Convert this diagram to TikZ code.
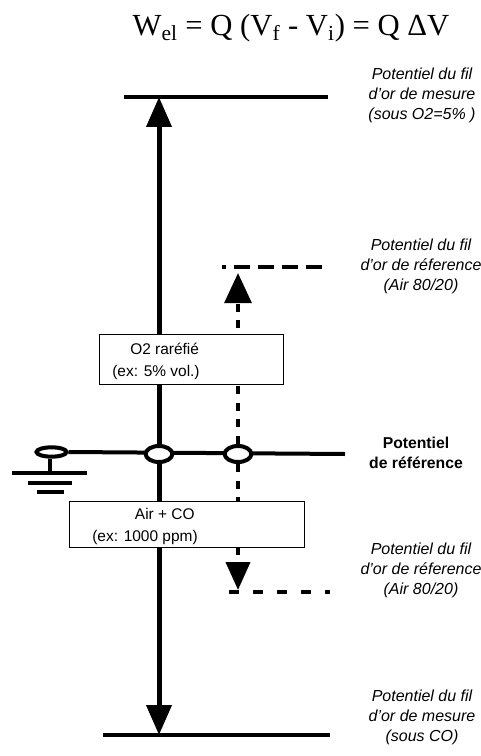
\documentclass[tikz,border=0pt]{standalone}
\usepackage{fontspec}
\setmainfont{Liberation Sans}
\newfontfamily\tnr{Liberation Serif}
\usetikzlibrary{arrows.meta,positioning,calc,shapes.geometric}
\tikzset{
  >={Triangle[length=22.5pt,width=18.5pt]},
  lvl/.style={line width=2.4pt},
  mainw/.style={->,line width=3.75pt},
  refw/.style={line width=3pt,dash pattern=on 6pt off 6.4pt},
  gasbox/.style={draw,line width=1pt,fill=white,inner sep=0pt,anchor=north west},
  gastxt/.style={font=\fontsize{11.6}{16.5}\selectfont,align=left,anchor=west,inner sep=0pt},
  lbl/.style={font=\fontsize{12}{15}\selectfont\itshape,align=center,inner sep=0pt},
  blbl/.style={font=\fontsize{11.8}{15}\selectfont\bfseries,align=center,inner sep=0pt},
  joint/.style={draw,ellipse,line width=3pt,fill=white,minimum width=20pt,minimum height=12pt,inner sep=0pt},
  gring/.style={joint,minimum width=22.5pt,minimum height=7pt},
}
\begin{document}
\begin{tikzpicture}[x=0.75pt,y=-0.75pt]
  \useasboundingbox (0,0) rectangle (480,756);
  % formule
  \node[font=\tnr\fontsize{23}{27}\selectfont,inner sep=0pt] (eq) at (291,28)
    {W\textsubscript{el} = Q (V\textsubscript{f} - V\textsubscript{i}) = Q ΔV};
  % niveaux de potentiel
  \draw[lvl] (124,97) -- (328,97);
  \draw[lvl] (103,735) -- (330,735);
  \draw[lvl,dash pattern=on 12pt off 6pt] (322,267) -- (222,267);
  \draw[lvl,dash pattern=on 7.5pt off 10.5pt] (229,592) -- (330,592);
  \coordinate (mtop) at (159,97);
  \coordinate (mbot) at (159,735);
  \coordinate (rtop) at (238,273);
  \coordinate (rbot) at (238,590);
  % ligne de reference et masse
  \coordinate (href) at (345,454);
  \node[gring] (g) at (51.5,452) {};
  \draw[line width=3pt] (g.east) -- (href);
  \coordinate (gs) at (50,473);
  \draw[lvl] (g.south -| gs) -- (gs);
  \draw[lvl] (12,473) -- (87,473);
  \draw[lvl] (28,483) -- (72,483);
  \draw[lvl] (37,492) -- (64,492);
  \node[joint] (jm) at (159,454) {};
  \node[joint] (jr) at (238,454) {};
  % fleches
  \draw[mainw] (jm.north) -- (mtop);
  \draw[mainw] (jm.south) -- (mbot);
  \draw[refw,-{Triangle[length=22.5pt,width=20pt]}] (jr.north) -- (rtop);
  \draw[refw,-{Triangle[length=21pt,width=18pt]}] (jr.south) -- (rbot);
  % gaz
  \node[gasbox,minimum width=138pt,minimum height=37.5pt] (o2) at (99,334) {};
  \node[gastxt] (o2t) at (112,361) {\hspace*{13.5pt}O2 raréfié\\(ex: 5\% vol.)};
  \node[gasbox,minimum width=176.25pt,minimum height=34.5pt] (air) at (69,501) {};
  \node[gastxt] (airt) at (92,526) {\hspace*{32pt}Air + CO\\(ex: 1000 ppm)};
  % legendes
  \node[lbl] (l1) at (422,95) {Potentiel du fil\\d'or de mesure\\(sous O2=5\% )};
  \node[lbl] (l2) at (421,266) {Potentiel du fil\\d'or de réference\\(Air 80/20)};
  \node[blbl] (l3) at (416,453) {Potentiel\\de référence};
  \node[lbl] (l4) at (421,570) {Potentiel du fil\\d'or de réference\\(Air 80/20)};
  \node[lbl] (l5) at (422,717) {Potentiel du fil\\d'or de mesure\\(sous CO)};
\end{tikzpicture}
\end{document}
